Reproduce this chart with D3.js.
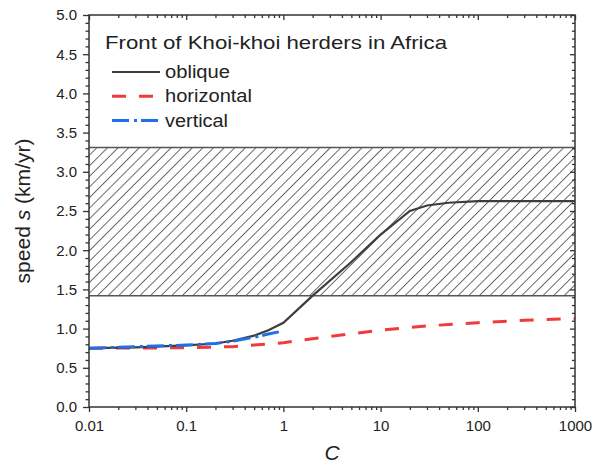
<!DOCTYPE html>
<html><head><meta charset="utf-8">
<script src="https://cdn.jsdelivr.net/npm/d3@7"></script>
<style>body{margin:0;background:#fff}svg{font-family:Arial,"Liberation Sans",sans-serif}</style>
</head><body><svg id="c" width="603" height="470"></svg>
<script>
const obliqueC = [0.01,0.03,0.1,0.2,0.3,0.5,0.7,1,2,5,10,20,30,50,100,1000];
const obliqueS = [0.75,0.76,0.785,0.81,0.845,0.91,0.98,1.075,1.42,1.85,2.2,2.5,2.57,2.605,2.625,2.625];
const horizC = [0.01,0.1,0.3,0.5,1,3,10,30,100,300,1000];
const horizS = [0.75,0.755,0.77,0.79,0.82,0.9,0.98,1.035,1.075,1.105,1.13];
const vertC = [0.01,0.1,0.2,0.3,0.5,0.7,1];
const vertS = [0.75,0.79,0.81,0.84,0.89,0.93,0.97];
const band = [1.42, 3.31];
const xTicks = [0.01,0.1,1,10,100,1000];
const xTickLabels = ["0.01","0.1","1","10","100","1000"];
const yTicks = [0,0.5,1,1.5,2,2.5,3,3.5,4,4.5,5];
const seriesNames = ["oblique","horizontal","vertical"];
const legendTitle = "Front of Khoi-khoi herders in Africa";

const svg = d3.select("#c");
const L=89,R=575,T=15,B=407;
const x = d3.scaleLog().domain([0.01,1000]).range([L,R]);
const y = d3.scaleLinear().domain([0,5]).range([B,T]);

const defs = svg.append("defs");
const pat = defs.append("pattern").attr("id","hatch").attr("patternUnits","userSpaceOnUse")
  .attr("width",7.5).attr("height",7.5).attr("patternTransform","rotate(45)");
pat.append("line").attr("x1",0).attr("y1",0).attr("x2",0).attr("y2",7.5).attr("stroke","#000").attr("stroke-width",1.15);

// band
svg.append("rect").attr("x",L).attr("width",R-L).attr("y",y(band[1])).attr("height",y(band[0])-y(band[1]))
  .attr("fill","url(#hatch)");
band.forEach(v=>svg.append("line").attr("x1",L).attr("x2",R).attr("y1",y(v)).attr("y2",y(v)).attr("stroke","#555").attr("stroke-width",1.5));

const line = d3.line().x(d=>x(d[0])).y(d=>y(d[1]));
const styles = [
  {c:"#3d3d3d",w:2.2,dash:null},
  {c:"#f03a3c",w:3,dash:"14,13"},
  {c:"#1f6fe8",w:3,dash:"17,5,3,4"}
];
const data = [d3.zip(obliqueC,obliqueS), d3.zip(horizC,horizS), d3.zip(vertC,vertS)];
[1,0,2].forEach(i=>{
  svg.append("path").attr("d",line(data[i])).attr("fill","none").attr("stroke",styles[i].c)
    .attr("stroke-width",styles[i].w).attr("stroke-dasharray",styles[i].dash);
});

// frame
svg.append("rect").attr("x",L).attr("y",T).attr("width",R-L).attr("height",B-T).attr("fill","none").attr("stroke","#333").attr("stroke-width",1.5);

// axes
const minorX = [];
for(let e=-2;e<3;e++) for(let k=2;k<10;k++) minorX.push(k*Math.pow(10,e));
const minorY = d3.range(0,51).map(i=>i/10).filter(v=>Math.abs(v*2-Math.round(v*2))>1e-6);

const bx = svg.append("g").attr("transform",`translate(0,${B})`).call(d3.axisBottom(x).tickValues(xTicks).tickFormat((d,i)=>xTickLabels[i]).tickSize(5).tickPadding(8));
const bxm = svg.append("g").attr("transform",`translate(0,${B})`).call(d3.axisBottom(x).tickValues(minorX).tickFormat("").tickSize(3));
const tx = svg.append("g").attr("transform",`translate(0,${T})`).call(d3.axisBottom(x).tickValues(xTicks).tickFormat("").tickSize(5));
const txm = svg.append("g").attr("transform",`translate(0,${T})`).call(d3.axisBottom(x).tickValues(minorX).tickFormat("").tickSize(3));
const ly = svg.append("g").attr("transform",`translate(${L},0)`).call(d3.axisLeft(y).tickValues(yTicks).tickFormat(d3.format(".1f")).tickSize(6).tickPadding(6));
const lym = svg.append("g").attr("transform",`translate(${L},0)`).call(d3.axisLeft(y).tickValues(minorY).tickFormat("").tickSize(3.5));
const ry = svg.append("g").attr("transform",`translate(${R},0)`).call(d3.axisLeft(y).tickValues(yTicks).tickFormat("").tickSize(5));
const rym = svg.append("g").attr("transform",`translate(${R},0)`).call(d3.axisLeft(y).tickValues(minorY).tickFormat("").tickSize(3));
[bx,bxm,tx,txm,ly,lym,ry,rym].forEach(g=>{
  g.select(".domain").remove();
  g.selectAll(".tick line").attr("stroke","#333").attr("stroke-width",1.3);
  g.selectAll(".tick text").attr("fill","#222").style("font-size","15px");
});

// axis titles
const yt = svg.append("text").attr("transform",`translate(30,${(T+B)/2}) rotate(-90)`).attr("text-anchor","middle")
  .style("font-size","20px").attr("fill","#222").attr("textLength",145).attr("lengthAdjust","spacingAndGlyphs");
yt.append("tspan").text("speed ");
yt.append("tspan").text("s").style("font-style","italic");
yt.append("tspan").text(" (km/yr)");
svg.append("text").attr("x",(L+R)/2).attr("y",460).attr("text-anchor","middle").style("font-size","21px").style("font-style","italic").attr("fill","#222").text("C");

// legend
svg.append("text").attr("x",105).attr("y",48.5).style("font-size","19px").attr("fill","#222")
  .attr("textLength",342).attr("lengthAdjust","spacingAndGlyphs").text(legendTitle);
const legW = [65,87,63];
seriesNames.forEach((n,i)=>{
  const yy = 72 + i*24.3;
  svg.append("line").attr("x1",112).attr("x2",160).attr("y1",yy).attr("y2",yy).attr("stroke",styles[i].c)
    .attr("stroke-width",styles[i].w).attr("stroke-dasharray",styles[i].dash);
  svg.append("text").attr("x",165).attr("y",yy+6).style("font-size","17.5px").attr("fill","#222")
    .attr("textLength",legW[i]).attr("lengthAdjust","spacingAndGlyphs").text(n);
});
</script></body></html>
